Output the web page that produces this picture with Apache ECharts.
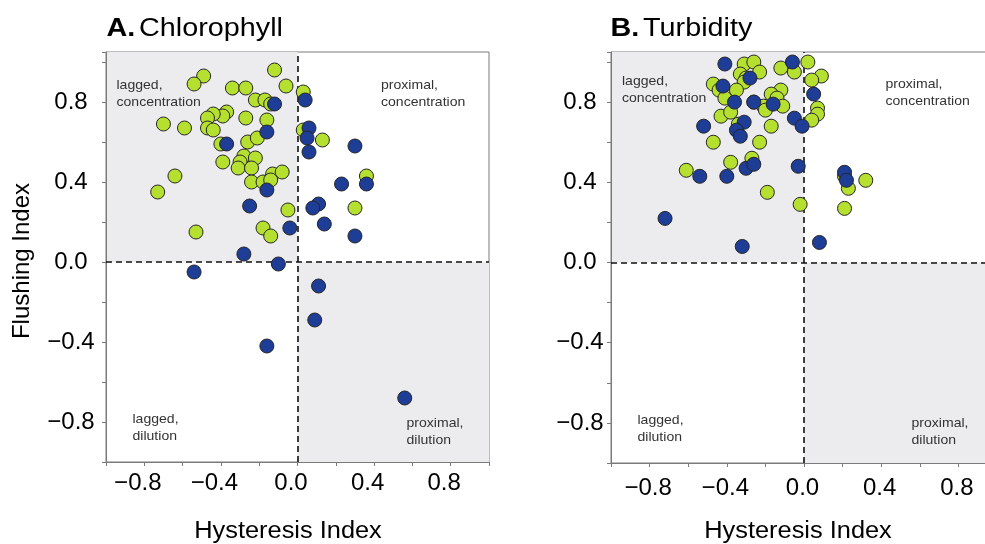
<!DOCTYPE html>
<html>
<head>
<meta charset="utf-8">
<title>Hysteresis vs flushing index</title>
<script src="https://cdn.jsdelivr.net/npm/echarts@6/dist/echarts.min.js"></script>
<style>
  html, body { margin: 0; padding: 0; background: #fff; }
  #chart { width: 985px; height: 544px; }
</style>
</head>
<body>
<div id="chart"></div>
<script>
const FONT = '"Liberation Sans", Arial, Helvetica, sans-serif'

// axis extents + labelled ticks, same for both panels
const xMin = -1, xMax = 1
const yMin = -1, yMax = 1.05
const tickValues = [-0.8, -0.4, 0, 0.4, 0.8]
const tickLabels = ['−0.8', '−0.4', '0.0', '0.4', '0.8']

const panelLetters = ['A.', 'B.']
const panelTitles = ['Chlorophyll', 'Turbidity']
const xTitle = 'Hysteresis Index'
const yTitle = 'Flushing Index'
const quadrantNames = ['lagged,\nconcentration', 'proximal,\nconcentration', 'lagged,\ndilution', 'proximal,\ndilution']

// [hysteresis index, flushing index]
const chlGreen = [
  [-0.49, 0.93], [-0.54, 0.89], [-0.12, 0.96], [-0.06, 0.88], [-0.34, 0.87], [-0.27, 0.87],
  [0.03, 0.85], [-0.22, 0.81], [-0.17, 0.81], [-0.14, 0.79], [-0.37, 0.75], [-0.39, 0.73],
  [-0.44, 0.74], [-0.47, 0.72], [-0.27, 0.72], [-0.16, 0.71], [-0.70, 0.69], [-0.59, 0.67],
  [-0.47, 0.67], [-0.44, 0.66], [0.03, 0.66], [0.13, 0.61], [-0.26, 0.60], [-0.21, 0.62],
  [-0.40, 0.59], [-0.28, 0.53], [-0.22, 0.52], [-0.30, 0.50], [-0.39, 0.50], [-0.31, 0.47],
  [-0.24, 0.47], [-0.64, 0.43], [-0.13, 0.44], [-0.08, 0.45], [-0.24, 0.40], [-0.18, 0.40],
  [-0.14, 0.41], [0.36, 0.43], [-0.73, 0.35], [-0.05, 0.26], [0.30, 0.27], [-0.18, 0.17],
  [-0.14, 0.13], [-0.53, 0.15]
]
const chlBlue = [
  [-0.12, 0.79], [0.04, 0.81], [0.06, 0.67], [0.05, 0.62], [-0.16, 0.65], [-0.37, 0.59],
  [0.30, 0.58], [0.06, 0.55], [0.23, 0.39], [0.36, 0.39], [-0.16, 0.36], [-0.25, 0.28],
  [0.11, 0.29], [0.08, 0.27], [0.14, 0.19], [-0.04, 0.17], [0.30, 0.13], [-0.28, 0.04],
  [-0.10, -0.01], [-0.54, -0.05], [0.11, -0.12], [0.09, -0.29], [-0.16, -0.42], [0.56, -0.68]
]
const turbGreen = [
  [-0.31, 0.99], [-0.26, 1.00], [0.02, 1.00], [-0.12, 0.97], [-0.05, 0.95], [-0.23, 0.95],
  [-0.33, 0.94], [-0.30, 0.92], [-0.31, 0.90], [0.09, 0.93], [0.04, 0.91], [-0.47, 0.89],
  [-0.44, 0.86], [-0.35, 0.86], [-0.41, 0.82], [-0.12, 0.86], [-0.17, 0.84], [-0.14, 0.82],
  [-0.26, 0.80], [-0.21, 0.78], [-0.20, 0.76], [-0.11, 0.78], [0.07, 0.77], [0.07, 0.74],
  [0.04, 0.71], [-0.43, 0.73], [-0.38, 0.75], [-0.34, 0.69], [-0.17, 0.68], [-0.47, 0.60],
  [-0.23, 0.60], [-0.27, 0.52], [-0.38, 0.50], [-0.61, 0.46], [-0.19, 0.35], [-0.02, 0.29],
  [0.21, 0.43], [0.23, 0.37], [0.32, 0.41], [0.21, 0.27]
]
const turbBlue = [
  [-0.41, 0.99], [-0.06, 1.00], [-0.28, 0.92], [-0.42, 0.88], [0.05, 0.84], [-0.36, 0.80],
  [-0.26, 0.80], [-0.16, 0.79], [-0.05, 0.72], [-0.01, 0.68], [-0.52, 0.68], [-0.31, 0.70],
  [-0.35, 0.66], [-0.33, 0.63], [-0.03, 0.48], [-0.30, 0.47], [-0.26, 0.49], [-0.54, 0.43],
  [-0.40, 0.43], [0.21, 0.45], [0.22, 0.41], [-0.72, 0.22], [-0.32, 0.08], [0.08, 0.10]
]

const GREEN = '#b6e02f'
const BLUE = '#1e3d97'
const SHADE = '#ececef'
const FRAME = '#7a7a7a'

function tickFormatter (v) {
  const i = tickValues.findIndex(t => Math.abs(t - v) < 1e-6)
  return i < 0 ? '' : tickLabels[i]
}

const axisLine = { show: true, onZero: false, lineStyle: { color: FRAME, width: 1 } }
const axisTick = { show: true, length: 4, lineStyle: { color: FRAME, width: 1 } }

function xAxisFor (gridIndex, margin, padding) {
  return {
    type: 'value', gridIndex, min: xMin, max: xMax, interval: 0.2,
    axisLine, axisTick, splitLine: { show: false },
    axisLabel: {
      formatter: tickFormatter, color: '#000', fontSize: 24, fontFamily: FONT,
      margin, padding, showMinLabel: true, showMaxLabel: true
    }
  }
}

function yAxisFor (gridIndex, margin) {
  return {
    type: 'value', gridIndex, min: yMin, max: yMax, interval: 0.2,
    axisLine, axisTick, splitLine: { show: false },
    axisLabel: {
      formatter: tickFormatter, color: '#000', fontSize: 24, fontFamily: FONT,
      align: 'center', margin, showMinLabel: true, showMaxLabel: true
    }
  }
}

function dots (gi, data, color) {
  return {
    type: 'scatter', xAxisIndex: gi, yAxisIndex: gi, data,
    symbolSize: 14, z: 3,
    itemStyle: { color, borderColor: '#262626', borderWidth: 1, opacity: 1 },
    emphasis: { disabled: true }
  }
}

// quadrant shading + dashed zero lines, drawn under the dots
function quadrants (gi) {
  return {
    type: 'scatter', xAxisIndex: gi, yAxisIndex: gi, data: [], silent: true, z: 1,
    markArea: {
      silent: true, z: 0,
      itemStyle: { color: SHADE },
      data: [
        [{ coord: [xMin, 0] }, { coord: [0, yMax] }],
        [{ coord: [0, yMin] }, { coord: [xMax, 0] }]
      ]
    },
    markLine: {
      silent: true, z: 1, symbol: ['none', 'none'],
      label: { show: false },
      lineStyle: { color: '#111', type: [6, 4], width: 1.6 },
      data: [{ xAxis: 0 }, { yAxis: 0 }]
    }
  }
}

function text (x, y, str, extra, scaleX) {
  return {
    type: 'text', x, y, z: 100, scaleX: scaleX || 1, silent: true,
    style: Object.assign({ text: str, fill: '#000', fontFamily: FONT, fontSize: 24 }, extra)
  }
}

function panelTitle (x, i) {
  return {
    type: 'text', x, y: 29.5, z: 100, scaleX: 1.15, silent: true,
    style: {
      text: '{b|' + panelLetters[i] + '} {n|' + panelTitles[i] + '}',
      verticalAlign: 'middle', align: 'left',
      rich: {
        b: { fontFamily: FONT, fontSize: 25, fontWeight: 'bold', fill: '#000' },
        n: { fontFamily: FONT, fontSize: 25, fill: '#000' }
      }
    }
  }
}

const qStyle = { fontSize: 13, lineHeight: 17, fill: '#333', align: 'left', verticalAlign: 'top' }
const Q_SCALE = 1.08

const graphic = [
  panelTitle(106.5, 0),
  panelTitle(610.5, 1),
  text(288, 531.5, xTitle, { fontSize: 23.5, align: 'center', verticalAlign: 'middle' }, 1.08),
  text(798, 531.5, xTitle, { fontSize: 23.5, align: 'center', verticalAlign: 'middle' }, 1.08),
  Object.assign(text(22.5, 261, yTitle, { align: 'center', verticalAlign: 'middle' }), { rotation: Math.PI / 2 }),
  // left panel quadrant names
  text(116.5, 77, quadrantNames[0], qStyle, Q_SCALE),
  text(381, 77, quadrantNames[1], qStyle, Q_SCALE),
  text(132.5, 411, quadrantNames[2], qStyle, Q_SCALE),
  text(406.5, 415, quadrantNames[3], qStyle, Q_SCALE),
  // right panel
  text(622, 73, quadrantNames[0], qStyle, Q_SCALE),
  text(885.5, 76, quadrantNames[1], qStyle, Q_SCALE),
  text(637.5, 411.5, quadrantNames[2], qStyle, Q_SCALE),
  text(911.5, 415, quadrantNames[3], qStyle, Q_SCALE)
]

const gridBase = { show: true, borderColor: FRAME, borderWidth: 1, backgroundColor: 'transparent', containLabel: false, outerBoundsMode: 'none' }

const chart = echarts.init(document.getElementById('chart'), null, { renderer: 'canvas' })
chart.setOption({
  animation: false,
  backgroundColor: '#fff',
  textStyle: { fontFamily: FONT },
  grid: [
    Object.assign({ left: 106, top: 52, width: 383, height: 410 }, gridBase),
    // the right panel runs past the page edge, like the original figure
    Object.assign({ left: 611, top: 52, width: 386, height: 411 }, gridBase)
  ],
  xAxis: [xAxisFor(0, 9, [0, 13, 0, 0]), xAxisFor(1, 13, [0, 3, 0, 0])],
  yAxis: [yAxisFor(0, 35), yAxisFor(1, 31)],
  series: [
    quadrants(0), dots(0, chlGreen, GREEN), dots(0, chlBlue, BLUE),
    quadrants(1), dots(1, turbGreen, GREEN), dots(1, turbBlue, BLUE)
  ],
  graphic
})
</script>
</body>
</html>
